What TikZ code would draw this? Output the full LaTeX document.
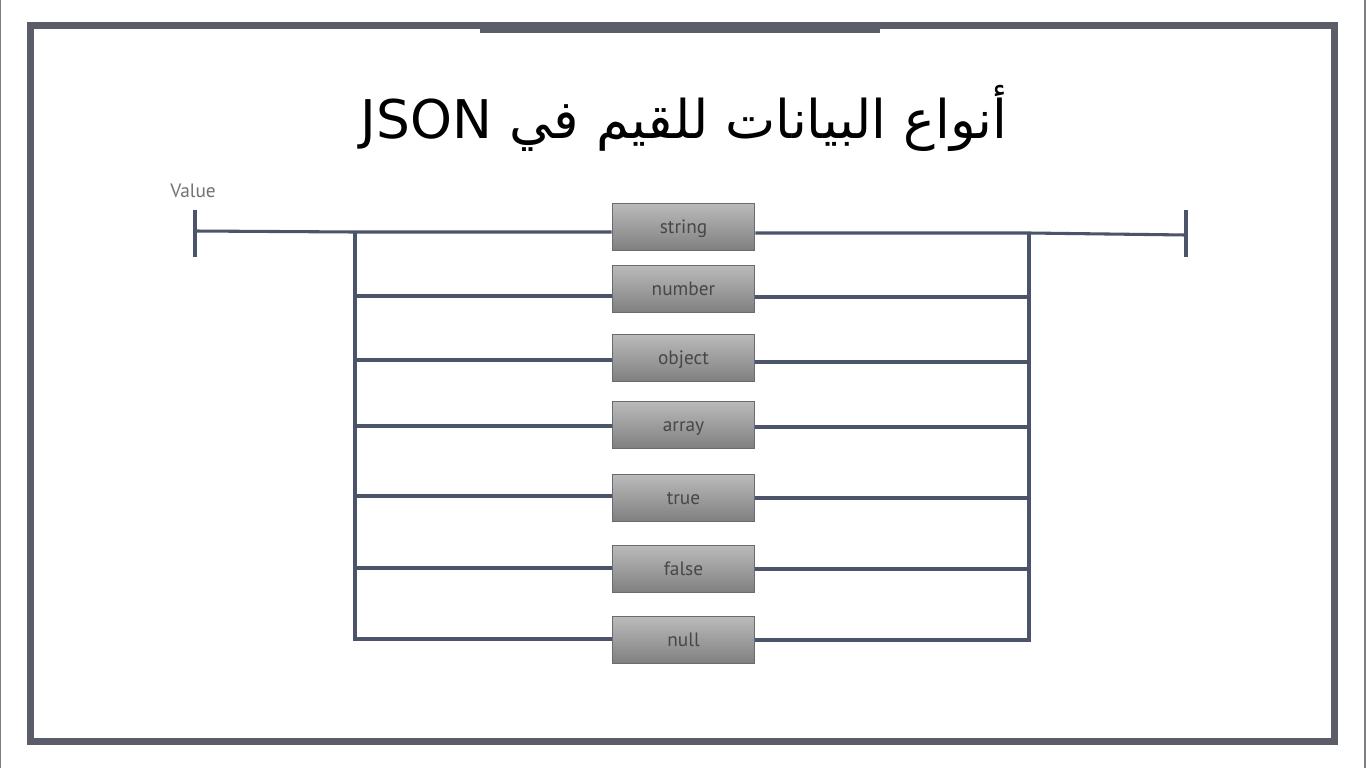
\documentclass[tikz,border=0pt]{standalone}
\usepackage{fontspec}
\setmainfont{PT Sans}
\newfontfamily\arabicfont[Script=Arabic]{DejaVu Sans}
\TeXXeTstate=1
\usepackage{tikz}
\usetikzlibrary{positioning}
\definecolor{framegray}{HTML}{5B5E69}
\definecolor{wireblue}{HTML}{4B5468}
\definecolor{boxedge}{HTML}{6A6B70}
\definecolor{labelgray}{HTML}{474747}
\tikzset{
    valbox/.style={
           rectangle,
           draw=boxedge, thick,
           top color=black!27,
           bottom color=black!50,
           minimum width=107pt,
           minimum height=35pt,
           inner sep=2pt,
           text=labelgray,
           text height=1.9ex,
           text depth=0.1ex,
           font=\fontsize{14.5}{16}\selectfont,
           text centered,
           },
    wire/.style={
           draw=wireblue,
           line width=2.3pt,
           },
    endbar/.style={
           draw=wireblue,
           line width=2.6pt,
           },
}

\begin{document}
\begin{tikzpicture}[x=0.75pt,y=-0.75pt]
	\useasboundingbox (0,0) rectangle (1366,768);
	\fill[white] (0,0) rectangle (1366,768);
	
	%frame
	\draw[framegray, line width=5.25pt] (30.5,25.5) rectangle (1334.5,741.5);
	\fill[framegray] (480,22) rectangle (880,32.5);
	\draw[framegray!80, line width=1pt] (0.5,0) -- (0.5,768);
	\draw[framegray!80, line width=1pt] (1365,0) -- (1365,768);
	
	\node[font=\arabicfont\fontsize{40}{48}\selectfont] (title) at (684,118)
		{\beginR أنواع البيانات للقيم في \beginL JSON\endL\endR};
	
	%value boxes
	\node[valbox] (string) at (683.5,227) {string};
	\node[valbox] (number) at (683.5,289) {number};
	\node[valbox] (object) at (683.5,358) {object};
	\node[valbox] (array) at (683.5,425) {array};
	\node[valbox] (true) at (683.5,498) {true};
	\node[valbox] (false) at (683.5,569) {false};
	\node[valbox] (null) at (683.5,640) {null};
	
	\node[text=black!55, font=\fontsize{14.5}{16}\selectfont] (value) at (193,191) {Value};
	
	%junctions on the left bus
	\coordinate (lbar) at (195,231);
	\coordinate (lstring) at (355,232);
	\coordinate (lnumber) at (355,296);
	\coordinate (lobject) at (355,360);
	\coordinate (larray) at (355,426);
	\coordinate (ltrue) at (355,496);
	\coordinate (lfalse) at (355,568);
	\coordinate (lnull) at (355,639);
	%junctions on the right bus
	\coordinate (rstring) at (1029,233);
	\coordinate (rnumber) at (1029,297);
	\coordinate (robject) at (1029,362);
	\coordinate (rarray) at (1029,427);
	\coordinate (rtrue) at (1029,498);
	\coordinate (rfalse) at (1029,569);
	\coordinate (rnull) at (1029,640);
	\coordinate (rbar) at (1186,235);
	
	%EDGES
	
	\draw[endbar] ([yshift=21*0.75pt]lbar) -- ([yshift=-26*0.75pt]lbar);
	\draw[endbar] ([yshift=25*0.75pt]rbar) -- ([yshift=-22*0.75pt]rbar);
	
	\draw[wire]	(lbar) -- (lstring) -- (lstring -| string.west);
	\draw[wire]	(lstring) -- (lnull) -- (lnull -| null.west);
	\draw[wire]	(rstring -| string.east) -- (rstring) -- (rbar);
	\draw[wire]	(rstring) -- (rnull) -- (rnull -| null.east);
	
	\path[wire]	(lnumber) edge (lnumber -| number.west)
				(lobject) edge (lobject -| object.west)
				(larray) edge (larray -| array.west)
				(ltrue) edge (ltrue -| true.west)
				(lfalse) edge (lfalse -| false.west);
	\path[wire]	(rnumber -| number.east) edge (rnumber)
				(robject -| object.east) edge (robject)
				(rarray -| array.east) edge (rarray)
				(rtrue -| true.east) edge (rtrue)
				(rfalse -| false.east) edge (rfalse);
	
\end{tikzpicture}
\end{document}
